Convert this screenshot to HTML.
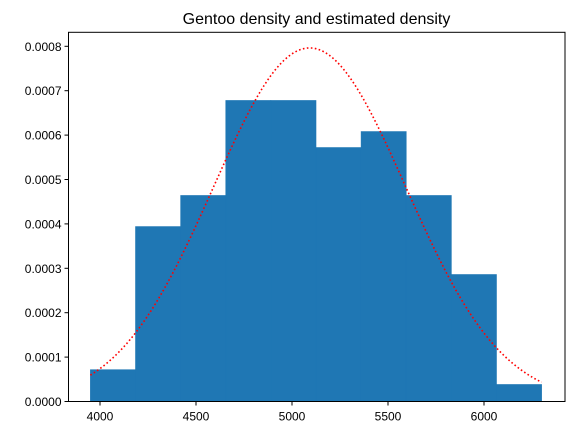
<!DOCTYPE html>
<html><head><meta charset="utf-8"><style>
body{margin:0;background:#fff;}
svg{display:block;font-family:"Liberation Sans","DejaVu Sans",sans-serif;}
</style></head><body>
<svg id="chart" width="573" height="435">
<g id="bars"></g>
<path id="curve" fill="none" stroke="#ff0000" stroke-width="1.6" stroke-dasharray="1.6,2.4"/>
<g id="axes"></g>
<text x="316.5" y="24" text-anchor="middle" font-size="16" fill="#000">Gentoo density and estimated density</text>
</svg>
<script>
const binEdges=[3950,4185,4420,4655,4890,5125,5360,5595,5830,6065,6300];
const densities=[0.0000716,0.000394,0.000464,0.000678,0.000678,0.000572,0.000608,0.000464,0.000286,0.0000383];
const xTicks=[4000,4500,5000,5500,6000];
const yTicks=[0,0.0001,0.0002,0.0003,0.0004,0.0005,0.0006,0.0007,0.0008];
const yTickLabels=["0.0000","0.0001","0.0002","0.0003","0.0004","0.0005","0.0006","0.0007","0.0008"];
const fitMean=[5092];
const fitSd=[501];
const L=68.5,R=565,T=32.3,B=401.5;
const X=v=>100+(v-4000)*0.192;
const Y=v=>B-v*444000;
const NS='http://www.w3.org/2000/svg';
function mk(t,a,p){const e=document.createElementNS(NS,t);for(const k in a)e.setAttribute(k,a[k]);p.appendChild(e);return e;}
const bars=document.getElementById('bars');
densities.forEach((d,i)=>{
 const r=mk('rect',{x:X(binEdges[i]),y:Y(d),width:X(binEdges[i+1])-X(binEdges[i]),height:B-Y(d),fill:'#1f77b4',stroke:'#1f77b4','stroke-width':0.6},bars);
 
 
});
let pts=[];const lo=binEdges[0],hi=binEdges[binEdges.length-1];
for(let k=0;k<=200;k++){const v=lo+(hi-lo)*k/200;const p=Math.exp(-0.5*((v-fitMean[0])/fitSd[0])**2)/(fitSd[0]*Math.sqrt(2*Math.PI));pts.push((k?'L':'M')+X(v).toFixed(2)+','+Y(p).toFixed(2));}
document.getElementById('curve').setAttribute('d',pts.join(''));
const ax=document.getElementById('axes');
const fr=mk('rect',{x:L,y:T,width:R-L,height:B-T,fill:'none',stroke:'#000','stroke-width':1},ax);


xTicks.forEach(v=>{
 mk('line',{x1:X(v),x2:X(v),y1:B,y2:B+4,stroke:'#000'},ax);
 const t=mk('text',{x:X(v),y:B+19,'text-anchor':'middle','font-size':12,fill:'#000'},ax);
 t.textContent=v;
 
 
});
yTicks.forEach((v,i)=>{
 mk('line',{x1:L-4,x2:L,y1:Y(v),y2:Y(v),stroke:'#000'},ax);
 const t=mk('text',{x:L-7,y:Y(v)+4.5,'text-anchor':'end','font-size':12,fill:'#000'},ax);
 t.textContent=yTickLabels[i];
 
 
});
</script>
</body></html>
